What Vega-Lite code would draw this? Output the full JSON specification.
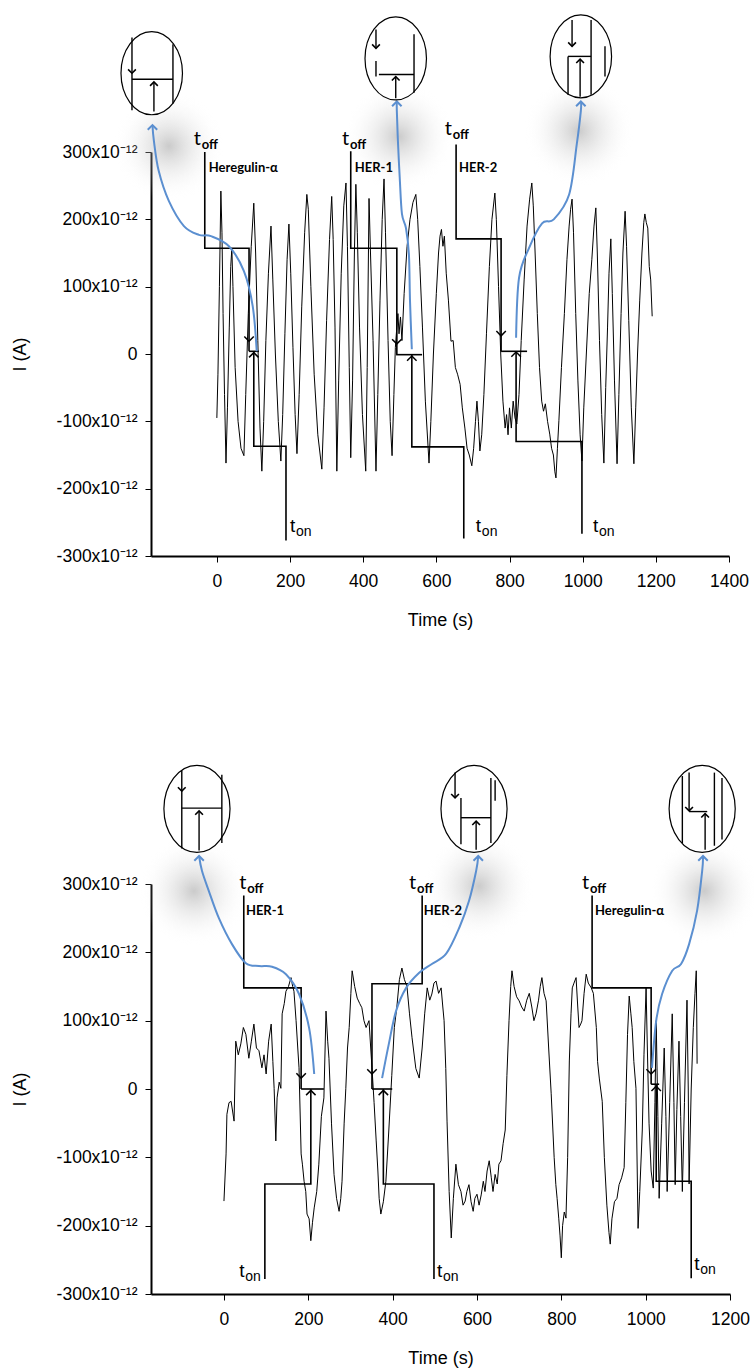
{
"$schema":"https://vega.github.io/schema/vega-lite/v6.json",
"padding":{"left":11,"top":12,"right":5,"bottom":5},
"spacing":132,
"config":{"view":{"stroke":null},
"axis":{"grid":false,"domainColor":"black","domainWidth":2,"tickColor":"black","tickSize":6,"tickWidth":1,"labelColor":"black","labelFont":"Liberation Sans","labelFontSize":17.5,"titleFont":"Liberation Sans","titleFontSize":18,"titleFontWeight":"normal","titleColor":"black","labelFlush":false},
"axisX":{"labelPadding":10,"titlePadding":22,"format":"d"},
"axisY":{"labelPadding":8,"titlePadding":27}},
"datasets":{
"trace1":[{"t":0,"v":-95},{"t":3,"v":-30},{"t":7,"v":100},{"t":11,"v":242},{"t":14,"v":180},{"t":17,"v":60},{"t":21,"v":-60},{"t":25,"v":-162},{"t":29,"v":-80},{"t":34,"v":40},{"t":38,"v":130},{"t":41,"v":157},{"t":44,"v":100},{"t":50,"v":-20},{"t":58,"v":-100},{"t":66,"v":-140},{"t":74,"v":-151},{"t":79,"v":-60},{"t":86,"v":60},{"t":94,"v":160},{"t":101,"v":224},{"t":106,"v":150},{"t":112,"v":20},{"t":118,"v":-110},{"t":123,"v":-174},{"t":128,"v":-100},{"t":134,"v":20},{"t":141,"v":120},{"t":148,"v":190},{"t":153,"v":110},{"t":160,"v":0},{"t":168,"v":-100},{"t":175,"v":-159},{"t":180,"v":-90},{"t":186,"v":30},{"t":192,"v":140},{"t":197,"v":193},{"t":202,"v":120},{"t":208,"v":10},{"t":214,"v":-90},{"t":219,"v":-148},{"t":225,"v":-60},{"t":232,"v":70},{"t":240,"v":180},{"t":246,"v":237},{"t":250,"v":215},{"t":257,"v":100},{"t":266,"v":-30},{"t":276,"v":-120},{"t":287,"v":-171},{"t":293,"v":-80},{"t":300,"v":50},{"t":308,"v":170},{"t":314,"v":234},{"t":318,"v":170},{"t":323,"v":40},{"t":328,"v":-174},{"t":333,"v":-40},{"t":340,"v":120},{"t":347,"v":220},{"t":353,"v":254},{"t":357,"v":160},{"t":362,"v":-20},{"t":366,"v":-154},{"t":371,"v":-40},{"t":376,"v":150},{"t":380,"v":252},{"t":384,"v":180},{"t":390,"v":40},{"t":398,"v":-90},{"t":407,"v":-174},{"t":411,"v":-20},{"t":416,"v":231},{"t":420,"v":150},{"t":427,"v":20},{"t":435,"v":-174},{"t":440,"v":-60},{"t":446,"v":80},{"t":452,"v":200},{"t":457,"v":260},{"t":461,"v":180},{"t":468,"v":20},{"t":474,"v":-100},{"t":479,"v":-151},{"t":484,"v":-60},{"t":488,"v":10},{"t":492,"v":40},{"t":495,"v":60},{"t":498,"v":30},{"t":502,"v":55},{"t":506,"v":20},{"t":512,"v":90},{"t":520,"v":160},{"t":528,"v":200},{"t":536,"v":225},{"t":544,"v":237},{"t":549,"v":200},{"t":555,"v":130},{"t":562,"v":40},{"t":570,"v":-70},{"t":580,"v":-162},{"t":585,"v":-100},{"t":592,"v":0},{"t":600,"v":90},{"t":606,"v":150},{"t":610,"v":175},{"t":614,"v":185},{"t":618,"v":160},{"t":622,"v":175},{"t":627,"v":120},{"t":633,"v":80},{"t":640,"v":19},{"t":646,"v":20},{"t":652,"v":-20},{"t":658,"v":-30},{"t":665,"v":-45},{"t":671,"v":-80},{"t":678,"v":-110},{"t":684,"v":-140},{"t":690,"v":-150},{"t":697,"v":-166},{"t":702,"v":-140},{"t":707,"v":-100},{"t":711,"v":-70},{"t":715,"v":-100},{"t":719,"v":-144},{"t":724,"v":-120},{"t":730,"v":-60},{"t":737,"v":30},{"t":745,"v":130},{"t":752,"v":200},{"t":760,"v":239},{"t":764,"v":200},{"t":770,"v":100},{"t":776,"v":0},{"t":782,"v":-70},{"t":788,"v":-110},{"t":792,"v":-90},{"t":796,"v":-120},{"t":800,"v":-80},{"t":805,"v":-110},{"t":810,"v":-70},{"t":815,"v":-95},{"t":820,"v":-104},{"t":826,"v":-60},{"t":832,"v":20},{"t":840,"v":110},{"t":848,"v":190},{"t":855,"v":230},{"t":861,"v":254},{"t":865,"v":220},{"t":870,"v":150},{"t":876,"v":60},{"t":882,"v":-20},{"t":888,"v":-70},{"t":893,"v":-85},{"t":898,"v":-74},{"t":904,"v":-100},{"t":910,"v":-119},{"t":915,"v":-140},{"t":920,"v":-150},{"t":924,"v":-175},{"t":927,"v":-184},{"t":931,"v":-140},{"t":935,"v":-99},{"t":942,"v":-20},{"t":950,"v":60},{"t":957,"v":140},{"t":963,"v":190},{"t":967,"v":215},{"t":971,"v":230},{"t":975,"v":180},{"t":981,"v":60},{"t":987,"v":-40},{"t":993,"v":-120},{"t":998,"v":-159},{"t":1003,"v":-80},{"t":1010,"v":0},{"t":1018,"v":90},{"t":1025,"v":140},{"t":1031,"v":190},{"t":1036,"v":217},{"t":1040,"v":150},{"t":1046,"v":20},{"t":1052,"v":-90},{"t":1058,"v":-162},{"t":1063,"v":-50},{"t":1068,"v":40},{"t":1072,"v":120},{"t":1077,"v":171},{"t":1081,"v":90},{"t":1087,"v":-40},{"t":1094,"v":-163},{"t":1099,"v":-60},{"t":1105,"v":60},{"t":1110,"v":150},{"t":1116,"v":212},{"t":1120,"v":160},{"t":1126,"v":50},{"t":1133,"v":-80},{"t":1140,"v":-163},{"t":1145,"v":-80},{"t":1150,"v":0},{"t":1156,"v":80},{"t":1162,"v":150},{"t":1167,"v":195},{"t":1170,"v":208},{"t":1174,"v":195},{"t":1178,"v":187},{"t":1182,"v":130},{"t":1186,"v":110},{"t":1190,"v":56}],
"trace2":[{"t":0,"v":-164},{"t":5,"v":-95},{"t":7,"v":-37},{"t":12,"v":-20},{"t":17,"v":-18},{"t":24,"v":-47},{"t":28,"v":70},{"t":34,"v":50},{"t":40,"v":66},{"t":46,"v":90},{"t":52,"v":80},{"t":59,"v":45},{"t":65,"v":70},{"t":71,"v":95},{"t":77,"v":60},{"t":83,"v":56},{"t":90,"v":31},{"t":95,"v":50},{"t":100,"v":22},{"t":106,"v":70},{"t":112,"v":95},{"t":116,"v":40},{"t":119,"v":1},{"t":123,"v":-76},{"t":126,"v":-13},{"t":131,"v":10},{"t":135,"v":1},{"t":138,"v":110},{"t":143,"v":125},{"t":147,"v":143},{"t":153,"v":150},{"t":159,"v":163},{"t":163,"v":150},{"t":166,"v":143},{"t":171,"v":100},{"t":175,"v":60},{"t":178,"v":31},{"t":183,"v":-95},{"t":186,"v":-110},{"t":190,"v":-135},{"t":194,"v":-150},{"t":197,"v":-183},{"t":202,"v":-190},{"t":206,"v":-222},{"t":210,"v":-195},{"t":214,"v":-174},{"t":220,"v":-150},{"t":225,"v":-110},{"t":231,"v":-40},{"t":237,"v":-13},{"t":242,"v":114},{"t":246,"v":70},{"t":249,"v":45},{"t":255,"v":-50},{"t":261,"v":-125},{"t":267,"v":-160},{"t":273,"v":-179},{"t":277,"v":-160},{"t":280,"v":-135},{"t":285,"v":-50},{"t":289,"v":1},{"t":293,"v":60},{"t":297,"v":90},{"t":301,"v":140},{"t":304,"v":173},{"t":310,"v":150},{"t":316,"v":133},{"t":322,"v":125},{"t":327,"v":119},{"t":332,"v":100},{"t":337,"v":90},{"t":344,"v":100},{"t":348,"v":60},{"t":351,"v":31},{"t":356,"v":-20},{"t":361,"v":-76},{"t":365,"v":-120},{"t":368,"v":-160},{"t":372,"v":-183},{"t":378,"v":-165},{"t":384,"v":-135},{"t":391,"v":-60},{"t":398,"v":20},{"t":404,"v":90},{"t":410,"v":120},{"t":416,"v":160},{"t":422,"v":177},{"t":428,"v":160},{"t":434,"v":150},{"t":440,"v":110},{"t":446,"v":75},{"t":455,"v":30},{"t":463,"v":16},{"t":470,"v":60},{"t":476,"v":110},{"t":482,"v":148},{"t":488,"v":130},{"t":493,"v":139},{"t":498,"v":155},{"t":503,"v":158},{"t":509,"v":140},{"t":515,"v":148},{"t":519,"v":120},{"t":522,"v":100},{"t":526,"v":30},{"t":529,"v":-47},{"t":534,"v":-150},{"t":539,"v":-218},{"t":544,"v":-160},{"t":550,"v":-110},{"t":556,"v":-140},{"t":562,"v":-150},{"t":567,"v":-170},{"t":572,"v":-164},{"t":576,"v":-150},{"t":581,"v":-140},{"t":586,"v":-165},{"t":591,"v":-179},{"t":595,"v":-160},{"t":600,"v":-154},{"t":605,"v":-170},{"t":610,"v":-155},{"t":615,"v":-135},{"t":619,"v":-150},{"t":624,"v":-120},{"t":629,"v":-105},{"t":634,"v":-130},{"t":638,"v":-150},{"t":643,"v":-125},{"t":648,"v":-139},{"t":652,"v":-110},{"t":657,"v":-105},{"t":662,"v":-80},{"t":667,"v":-60},{"t":671,"v":20},{"t":676,"v":100},{"t":680,"v":150},{"t":683,"v":173},{"t":688,"v":150},{"t":694,"v":135},{"t":700,"v":129},{"t":706,"v":120},{"t":712,"v":114},{"t":718,"v":130},{"t":724,"v":140},{"t":730,"v":120},{"t":735,"v":100},{"t":740,"v":110},{"t":746,"v":130},{"t":750,"v":150},{"t":754,"v":163},{"t":759,"v":140},{"t":764,"v":129},{"t":770,"v":60},{"t":776,"v":-7},{"t":780,"v":-60},{"t":783,"v":-100},{"t":787,"v":-140},{"t":790,"v":-160},{"t":794,"v":-190},{"t":797,"v":-215},{"t":800,"v":-247},{"t":803,"v":-200},{"t":807,"v":-180},{"t":811,"v":-189},{"t":815,"v":-100},{"t":819,"v":41},{"t":823,"v":110},{"t":826,"v":148},{"t":830,"v":155},{"t":835,"v":163},{"t":839,"v":120},{"t":842,"v":90},{"t":846,"v":95},{"t":849,"v":100},{"t":854,"v":140},{"t":859,"v":168},{"t":864,"v":155},{"t":871,"v":148},{"t":876,"v":140},{"t":883,"v":90},{"t":886,"v":40},{"t":890,"v":16},{"t":897,"v":-18},{"t":902,"v":-100},{"t":908,"v":-170},{"t":913,"v":-210},{"t":916,"v":-227},{"t":920,"v":-190},{"t":926,"v":-165},{"t":932,"v":-160},{"t":937,"v":-140},{"t":943,"v":-130},{"t":949,"v":-115},{"t":953,"v":-20},{"t":957,"v":80},{"t":961,"v":136},{"t":965,"v":110},{"t":968,"v":90},{"t":972,"v":40},{"t":977,"v":1},{"t":980,"v":-120},{"t":982,"v":-204},{"t":986,"v":-150},{"t":992,"v":-60},{"t":996,"v":50},{"t":1001,"v":148},{"t":1004,"v":60},{"t":1008,"v":-50},{"t":1013,"v":-120},{"t":1018,"v":-145},{"t":1022,"v":-20},{"t":1025,"v":100},{"t":1029,"v":-40},{"t":1032,"v":-160},{"t":1038,"v":-50},{"t":1044,"v":60},{"t":1048,"v":-40},{"t":1051,"v":-150},{"t":1057,"v":-20},{"t":1063,"v":110},{"t":1067,"v":-20},{"t":1070,"v":-140},{"t":1074,"v":-30},{"t":1079,"v":70},{"t":1083,"v":-40},{"t":1087,"v":-150},{"t":1092,"v":-20},{"t":1098,"v":130},{"t":1101,"v":0},{"t":1103,"v":-139},{"t":1108,"v":0},{"t":1113,"v":90},{"t":1117,"v":140},{"t":1120,"v":173},{"t":1121,"v":120},{"t":1122,"v":37}],
"br1":[{"id":"a","o":0,"t":-33,"v":300},{"id":"a","o":1,"t":-33,"v":157},{"id":"a","o":2,"t":88,"v":157},{"id":"a","o":3,"t":88,"v":4},{"id":"ab","o":0,"t":88,"v":4},{"id":"ab","o":1,"t":115,"v":4},{"id":"ac","o":0,"t":101,"v":4},{"id":"ac","o":1,"t":101,"v":-137},{"id":"ac","o":2,"t":189,"v":-137},{"id":"ac","o":3,"t":189,"v":-277},
{"id":"b","o":0,"t":366,"v":301},{"id":"b","o":1,"t":366,"v":157},{"id":"b","o":2,"t":492,"v":157},{"id":"b","o":3,"t":492,"v":-1},{"id":"bb","o":0,"t":490,"v":-1},{"id":"bb","o":1,"t":561,"v":-1},{"id":"bc","o":0,"t":533,"v":-1},{"id":"bc","o":1,"t":533,"v":-138},{"id":"bc","o":2,"t":675,"v":-138},{"id":"bc","o":3,"t":675,"v":-274},
{"id":"c","o":0,"t":654,"v":311},{"id":"c","o":1,"t":654,"v":171},{"id":"c","o":2,"t":777,"v":171},{"id":"c","o":3,"t":777,"v":4},{"id":"cb","o":0,"t":777,"v":4},{"id":"cb","o":1,"t":848,"v":4},{"id":"cc","o":0,"t":818,"v":4},{"id":"cc","o":1,"t":818,"v":-130},{"id":"cc","o":2,"t":998,"v":-130},{"id":"cc","o":3,"t":998,"v":-267}],
"br2":[{"id":"a","o":0,"t":47,"v":283},{"id":"a","o":1,"t":47,"v":148},{"id":"a","o":2,"t":183,"v":148},{"id":"a","o":3,"t":183,"v":0},{"id":"ab","o":0,"t":183,"v":0},{"id":"ab","o":1,"t":237,"v":0},{"id":"ac","o":0,"t":206,"v":0},{"id":"ac","o":1,"t":206,"v":-139},{"id":"ac","o":2,"t":97,"v":-139},{"id":"ac","o":3,"t":97,"v":-278},
{"id":"b","o":0,"t":470,"v":283},{"id":"b","o":1,"t":470,"v":154},{"id":"b","o":2,"t":351,"v":154},{"id":"b","o":3,"t":351,"v":0},{"id":"bb","o":0,"t":351,"v":0},{"id":"bb","o":1,"t":399,"v":0},{"id":"bc","o":0,"t":378,"v":0},{"id":"bc","o":1,"t":378,"v":-139},{"id":"bc","o":2,"t":498,"v":-139},{"id":"bc","o":3,"t":498,"v":-278},
{"id":"c","o":0,"t":873,"v":283},{"id":"c","o":1,"t":873,"v":148},{"id":"c","o":2,"t":1013,"v":148},{"id":"c","o":3,"t":1013,"v":7},{"id":"cb","o":0,"t":1013,"v":7},{"id":"cb","o":1,"t":1032,"v":7},{"id":"cc","o":0,"t":1025,"v":7},{"id":"cc","o":1,"t":1025,"v":-135},{"id":"cc","o":2,"t":1108,"v":-135},{"id":"cc","o":3,"t":1108,"v":-277}],
"dn1":[{"t":88,"v":19},{"t":492,"v":15},{"t":777,"v":27}],
"up1":[{"t":101,"v":2},{"t":533,"v":-3},{"t":818,"v":3}],
"dn2":[{"t":183,"v":16},{"t":351,"v":22},{"t":1013,"v":22}],
"up2":[{"t":206,"v":-2},{"t":378,"v":-2},{"t":1025,"v":4}],
"blue1":[{"id":"a","o":0,"t":109,"v":4},{"id":"a","o":1,"t":98,"v":71},{"id":"a","o":2,"t":74,"v":123},{"id":"a","o":3,"t":33,"v":160},{"id":"a","o":4,"t":-16,"v":175},{"id":"a","o":5,"t":-49,"v":177},{"id":"a","o":6,"t":-90,"v":190},{"id":"a","o":7,"t":-131,"v":227},{"id":"a","o":8,"t":-159,"v":272},{"id":"a","o":9,"t":-172,"v":316},{"id":"a","o":10,"t":-176,"v":340},
{"id":"b","o":0,"t":533,"v":7},{"id":"b","o":1,"t":528,"v":79},{"id":"b","o":2,"t":525,"v":148},{"id":"b","o":3,"t":517,"v":187},{"id":"b","o":4,"t":506,"v":208},{"id":"b","o":5,"t":500,"v":261},{"id":"b","o":6,"t":495,"v":316},{"id":"b","o":7,"t":492,"v":361},{"id":"b","o":8,"t":492,"v":375},
{"id":"c","o":0,"t":818,"v":24},{"id":"c","o":1,"t":826,"v":113},{"id":"c","o":2,"t":853,"v":157},{"id":"c","o":3,"t":889,"v":194},{"id":"c","o":4,"t":921,"v":200},{"id":"c","o":5,"t":963,"v":237},{"id":"c","o":6,"t":984,"v":312},{"id":"c","o":7,"t":995,"v":361},{"id":"c","o":8,"t":995,"v":375}],
"blue2":[{"id":"a","o":0,"t":214,"v":22},{"id":"a","o":1,"t":202,"v":89},{"id":"a","o":2,"t":178,"v":139},{"id":"a","o":3,"t":147,"v":168},{"id":"a","o":4,"t":114,"v":179},{"id":"a","o":5,"t":83,"v":180},{"id":"a","o":6,"t":52,"v":184},{"id":"a","o":7,"t":19,"v":212},{"id":"a","o":8,"t":-12,"v":250},{"id":"a","o":9,"t":-36,"v":290},{"id":"a","o":10,"t":-52,"v":319},{"id":"a","o":11,"t":-59,"v":341},
{"id":"b","o":0,"t":375,"v":16},{"id":"b","o":1,"t":391,"v":66},{"id":"b","o":2,"t":408,"v":114},{"id":"b","o":3,"t":432,"v":148},{"id":"b","o":4,"t":463,"v":170},{"id":"b","o":5,"t":493,"v":183},{"id":"b","o":6,"t":527,"v":198},{"id":"b","o":7,"t":558,"v":236},{"id":"b","o":8,"t":581,"v":275},{"id":"b","o":9,"t":598,"v":319},{"id":"b","o":10,"t":603,"v":341},
{"id":"c","o":0,"t":1015,"v":31},{"id":"c","o":1,"t":1025,"v":100},{"id":"c","o":2,"t":1039,"v":139},{"id":"c","o":3,"t":1063,"v":173},{"id":"c","o":4,"t":1084,"v":183},{"id":"c","o":5,"t":1103,"v":212},{"id":"c","o":6,"t":1122,"v":261},{"id":"c","o":7,"t":1134,"v":319},{"id":"c","o":8,"t":1136,"v":341}],
"bt1":[{"t":-176,"v":340},{"t":492,"v":375},{"t":995,"v":375}],
"bt2":[{"t":-59,"v":341},{"t":603,"v":341},{"t":1136,"v":341}],
"glow1":[{"t":-131,"v":309},{"t":498,"v":323},{"t":990,"v":331}],
"glow2":[{"t":-71,"v":290},{"t":605,"v":297},{"t":1139,"v":290}],
"ell1":[{"t":-178,"v":417},{"t":489,"v":439},{"t":995,"v":442}],
"ell2":[{"t":-64,"v":410},{"t":593,"v":410},{"t":1134,"v":410}],
"ins1":[{"t":-232,"v":470,"t2":-232,"v2":362},{"t":-232,"v":408,"t2":-120,"v2":408},{"t":-172,"v":360,"t2":-172,"v2":404},{"t":-120,"v":460,"t2":-120,"v2":372},
{"t":435,"v":482,"t2":435,"v2":454},{"t":435,"v":435,"t2":435,"v2":412},{"t":443,"v":415,"t2":539,"v2":415},{"t":489,"v":380,"t2":489,"v2":412},{"t":539,"v":475,"t2":539,"v2":388},
{"t":971,"v":496,"t2":971,"v2":457},{"t":960,"v":442,"t2":1023,"v2":442},{"t":993,"v":382,"t2":993,"v2":438},{"t":960,"v":442,"t2":960,"v2":385},{"t":1023,"v":496,"t2":1023,"v2":385},{"t":1061,"v":457,"t2":1061,"v2":412}],
"ins2":[{"t":-100,"v":466,"t2":-100,"v2":352},{"t":-100,"v":411,"t2":-5,"v2":411},{"t":-59,"v":349,"t2":-59,"v2":407},{"t":-5,"v":460,"t2":-5,"v2":360},
{"t":548,"v":463,"t2":548,"v2":426},{"t":562,"v":426,"t2":562,"v2":358},{"t":562,"v":397,"t2":633,"v2":397},{"t":598,"v":350,"t2":598,"v2":392},{"t":633,"v":455,"t2":633,"v2":360},{"t":643,"v":452,"t2":643,"v2":422},
{"t":1103,"v":463,"t2":1103,"v2":407},{"t":1103,"v":406,"t2":1146,"v2":406},{"t":1141,"v":350,"t2":1141,"v2":403},{"t":1087,"v":458,"t2":1087,"v2":360},{"t":1163,"v":463,"t2":1163,"v2":356},{"t":1181,"v":455,"t2":1181,"v2":365}],
"idn1":[{"t":-232,"v":417},{"t":435,"v":454},{"t":971,"v":457}],
"iup1":[{"t":-172,"v":404},{"t":489,"v":412},{"t":993,"v":438}],
"idn2":[{"t":-100,"v":436},{"t":548,"v":426},{"t":1103,"v":407}],
"iup2":[{"t":-59,"v":407},{"t":598,"v":392},{"t":1141,"v":403}],
"toff1":[{"t":-63,"v":320,"s":"t","sub":"off"},{"t":342,"v":320,"s":"t","sub":"off"},{"t":623,"v":334,"s":"t","sub":"off"}],
"toff2":[{"t":36,"v":302,"s":"t","sub":"off"},{"t":439,"v":302,"s":"t","sub":"off"},{"t":849,"v":302,"s":"t","sub":"off"}],
"ton1":[{"t":200,"v":-255,"s":"t","sub":"on"},{"t":708,"v":-255,"s":"t","sub":"on"},{"t":1028,"v":-255,"s":"t","sub":"on"}],
"ton2":[{"t":36,"v":-266,"s":"t","sub":"on"},{"t":505,"v":-266,"s":"t","sub":"on"},{"t":1115,"v":-256,"s":"t","sub":"on"}],
"name1":[{"t":-22,"v":276,"s":"Heregulin-α"},{"t":377,"v":276,"s":"HER-1"},{"t":662,"v":276,"s":"HER-2"}],
"name2":[{"t":52,"v":261,"s":"HER-1"},{"t":474,"v":261,"s":"HER-2"},{"t":880,"v":261,"s":"Heregulin-α"}]
},
"vconcat":[
{"width":578,"height":404,
"encoding":{"x":{"field":"t","type":"quantitative","scale":{"domain":[-180,1400],"nice":false,"zero":false},"axis":{"values":[0,200,400,600,800,1000,1200,1400],"title":"Time (s)"}},
"y":{"field":"v","type":"quantitative","scale":{"domain":[-300,300],"nice":false,"zero":false},"axis":{"values":[-300,-200,-100,0,100,200,300],"title":"I (A)","labelExpr":"datum.value == 0 ? '0' : datum.value + 'x10⁻¹²'"}}},
"layer":[
{"data":{"name":"glow1"},"mark":{"type":"point","shape":"circle","size":12000,"filled":true,"strokeWidth":0,"opacity":1,"clip":false,"fill":{"gradient":"radial","stops":[{"offset":0,"color":"rgba(150,150,150,0.5)"},{"offset":1,"color":"rgba(255,255,255,0)"}]}}},
{"data":{"name":"trace1"},"mark":{"type":"line","color":"black","strokeWidth":1}},
{"data":{"name":"br1"},"mark":{"type":"line","color":"black","strokeWidth":1.6},"encoding":{"detail":{"field":"id"},"order":{"field":"o"}}},
{"data":{"name":"dn1"},"mark":{"type":"point","shape":"M-1,-1L0,0L1,-1","size":90,"filled":false,"color":"black","strokeWidth":1.5,"opacity":1}},
{"data":{"name":"up1"},"mark":{"type":"point","shape":"M-1,1L0,0L1,1","size":90,"filled":false,"color":"black","strokeWidth":1.5,"opacity":1}},
{"data":{"name":"blue1"},"mark":{"type":"line","color":"#5b8fd0","strokeWidth":2,"interpolate":"cardinal","clip":false},"encoding":{"detail":{"field":"id"},"order":{"field":"o"}}},
{"data":{"name":"bt1"},"mark":{"type":"point","shape":"M-1,1L0,0L1,1","size":90,"filled":false,"color":"#5b8fd0","strokeWidth":2,"opacity":1,"clip":false}},
{"data":{"name":"ell1"},"mark":{"type":"point","shape":"M0,-1C0.41,-1,0.74,-0.55,0.74,0C0.74,0.55,0.41,1,0,1C-0.41,1,-0.74,0.55,-0.74,0C-0.74,-0.55,-0.41,-1,0,-1Z","size":6900,"filled":true,"fill":"white","stroke":"black","strokeWidth":1.2,"opacity":1,"clip":false}},
{"data":{"name":"ins1"},"mark":{"type":"rule","color":"black","strokeWidth":1.4,"clip":false},"encoding":{"x2":{"field":"t2"},"y2":{"field":"v2"}}},
{"data":{"name":"idn1"},"mark":{"type":"point","shape":"M-1,-1L0,0L1,-1","size":60,"filled":false,"color":"black","strokeWidth":1.6,"opacity":1,"clip":false}},
{"data":{"name":"iup1"},"mark":{"type":"point","shape":"M-1,1L0,0L1,1","size":60,"filled":false,"color":"black","strokeWidth":1.6,"opacity":1,"clip":false}},
{"data":{"name":"toff1"},"mark":{"type":"text","align":"left","baseline":"middle","font":"Lato","fontSize":20,"color":"black","clip":false},"encoding":{"text":{"field":"s"}}},
{"data":{"name":"toff1"},"mark":{"type":"text","align":"left","baseline":"middle","font":"Lato","fontSize":13,"fontWeight":"bold","dx":8,"dy":6,"color":"black","clip":false},"encoding":{"text":{"field":"sub"}}},
{"data":{"name":"ton1"},"mark":{"type":"text","align":"left","baseline":"middle","font":"Liberation Sans Narrow, Liberation Sans","fontSize":19,"color":"black"},"encoding":{"text":{"field":"s"}}},
{"data":{"name":"ton1"},"mark":{"type":"text","align":"left","baseline":"middle","font":"Liberation Sans Narrow, Liberation Sans","fontSize":14,"dx":6,"dy":6,"color":"black"},"encoding":{"text":{"field":"sub"}}},
{"data":{"name":"name1"},"mark":{"type":"text","align":"left","baseline":"middle","font":"Lato","fontSize":13,"fontWeight":"bold","color":"black"},"encoding":{"text":{"field":"s"}}}
]},
{"width":579,"height":410,
"encoding":{"x":{"field":"t","type":"quantitative","scale":{"domain":[-173,1200],"nice":false,"zero":false},"axis":{"values":[0,200,400,600,800,1000,1200],"title":"Time (s)"}},
"y":{"field":"v","type":"quantitative","scale":{"domain":[-300,300],"nice":false,"zero":false},"axis":{"values":[-300,-200,-100,0,100,200,300],"title":"I (A)","labelExpr":"datum.value == 0 ? '0' : datum.value + 'x10⁻¹²'"}}},
"layer":[
{"data":{"name":"glow2"},"mark":{"type":"point","shape":"circle","size":12000,"filled":true,"strokeWidth":0,"opacity":1,"clip":false,"fill":{"gradient":"radial","stops":[{"offset":0,"color":"rgba(150,150,150,0.5)"},{"offset":1,"color":"rgba(255,255,255,0)"}]}}},
{"data":{"name":"trace2"},"mark":{"type":"line","color":"black","strokeWidth":1}},
{"data":{"name":"br2"},"mark":{"type":"line","color":"black","strokeWidth":1.6},"encoding":{"detail":{"field":"id"},"order":{"field":"o"}}},
{"data":{"name":"dn2"},"mark":{"type":"point","shape":"M-1,-1L0,0L1,-1","size":90,"filled":false,"color":"black","strokeWidth":1.5,"opacity":1}},
{"data":{"name":"up2"},"mark":{"type":"point","shape":"M-1,1L0,0L1,1","size":90,"filled":false,"color":"black","strokeWidth":1.5,"opacity":1}},
{"data":{"name":"blue2"},"mark":{"type":"line","color":"#5b8fd0","strokeWidth":2,"interpolate":"cardinal","clip":false},"encoding":{"detail":{"field":"id"},"order":{"field":"o"}}},
{"data":{"name":"bt2"},"mark":{"type":"point","shape":"M-1,1L0,0L1,1","size":90,"filled":false,"color":"#5b8fd0","strokeWidth":2,"opacity":1,"clip":false}},
{"data":{"name":"ell2"},"mark":{"type":"point","shape":"M0,-1C0.42,-1,0.76,-0.55,0.76,0C0.76,0.55,0.42,1,0,1C-0.42,1,-0.76,0.55,-0.76,0C-0.76,-0.55,-0.42,-1,0,-1Z","size":7570,"filled":true,"fill":"white","stroke":"black","strokeWidth":1.2,"opacity":1,"clip":false}},
{"data":{"name":"ins2"},"mark":{"type":"rule","color":"black","strokeWidth":1.4,"clip":false},"encoding":{"x2":{"field":"t2"},"y2":{"field":"v2"}}},
{"data":{"name":"idn2"},"mark":{"type":"point","shape":"M-1,-1L0,0L1,-1","size":60,"filled":false,"color":"black","strokeWidth":1.6,"opacity":1,"clip":false}},
{"data":{"name":"iup2"},"mark":{"type":"point","shape":"M-1,1L0,0L1,1","size":60,"filled":false,"color":"black","strokeWidth":1.6,"opacity":1,"clip":false}},
{"data":{"name":"toff2"},"mark":{"type":"text","align":"left","baseline":"middle","font":"Lato","fontSize":20,"color":"black","clip":false},"encoding":{"text":{"field":"s"}}},
{"data":{"name":"toff2"},"mark":{"type":"text","align":"left","baseline":"middle","font":"Lato","fontSize":13,"fontWeight":"bold","dx":8,"dy":6,"color":"black","clip":false},"encoding":{"text":{"field":"sub"}}},
{"data":{"name":"ton2"},"mark":{"type":"text","align":"left","baseline":"middle","font":"Liberation Sans Narrow, Liberation Sans","fontSize":19,"color":"black"},"encoding":{"text":{"field":"s"}}},
{"data":{"name":"ton2"},"mark":{"type":"text","align":"left","baseline":"middle","font":"Liberation Sans Narrow, Liberation Sans","fontSize":14,"dx":6,"dy":6,"color":"black"},"encoding":{"text":{"field":"sub"}}},
{"data":{"name":"name2"},"mark":{"type":"text","align":"left","baseline":"middle","font":"Lato","fontSize":13,"fontWeight":"bold","color":"black"},"encoding":{"text":{"field":"s"}}}
]}
]}
